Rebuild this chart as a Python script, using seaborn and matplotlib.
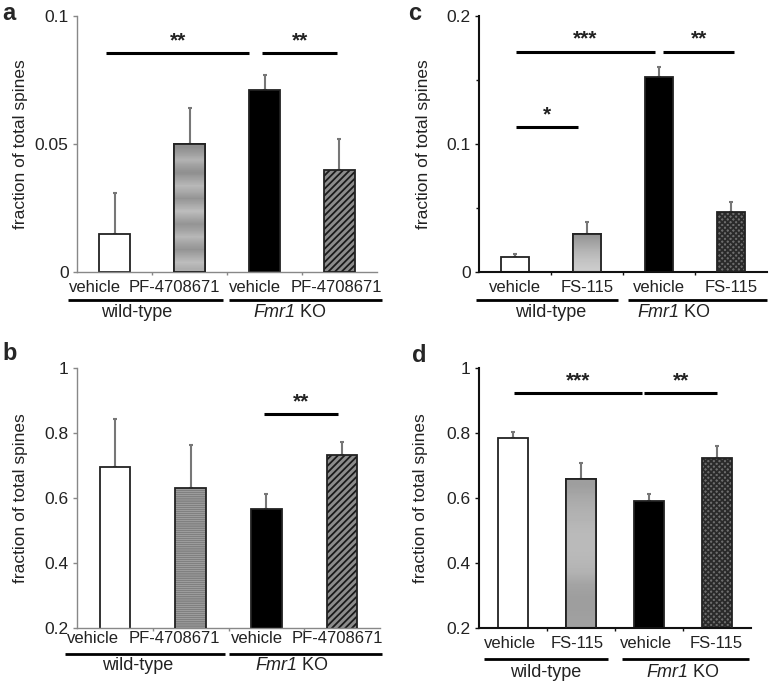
import numpy as np
import pandas as pd
import matplotlib
matplotlib.use("Agg")
import matplotlib.pyplot as plt
import seaborn as sns
from matplotlib.patches import Rectangle
import matplotlib.transforms as mtransforms

# ---------------- data ----------------
conditions = ["WT vehicle", "WT drug", "KO vehicle", "KO drug"]
labels_pf = ["vehicle", "PF-4708671", "vehicle", "PF-4708671"]
labels_fs = ["vehicle", "FS-115", "vehicle", "FS-115"]
group_wt = "wild-type"
group_ko_gene = "Fmr1"
group_ko_suffix = " KO"

a_mean = [0.015, 0.050, 0.071, 0.040]
a_err = [0.016, 0.014, 0.006, 0.012]
b_mean = [0.694, 0.631, 0.567, 0.732]
b_err = [0.149, 0.132, 0.044, 0.041]
c_mean = [0.012, 0.030, 0.152, 0.047]
c_err = [0.002, 0.009, 0.008, 0.008]
d_mean = [0.784, 0.658, 0.590, 0.722]
d_err = [0.020, 0.050, 0.021, 0.038]

a_ticks = [0, 0.05, 0.1]
a_ticklabels = ["0", "0.05", "0.1"]
c_ticks = [0, 0.1, 0.2]
c_ticklabels = ["0", "0.1", "0.2"]
bd_ticks = [0.2, 0.4, 0.6, 0.8, 1.0]
bd_ticklabels = ["0.2", "0.4", "0.6", "0.8", "1"]

# significance annotations: (x_start, x_end, y_line, text)
a_sig = [(-0.11, 1.80, 0.0855, "**"), (1.97, 2.97, 0.0855, "**")]
b_sig = [(1.97, 2.94, 0.858, "**")]
c_sig = [(0.01, 1.94, 0.172, "***"), (2.06, 3.04, 0.172, "**"), (0.01, 0.87, 0.113, "*")]
d_sig = [(0.01, 1.90, 0.923, "***"), (1.93, 3.00, 0.923, "**")]

# ---------------- style ----------------
sns.set_theme(style="white")
plt.rcParams["font.family"] = ["Liberation Sans", "DejaVu Sans"]
plt.rcParams["hatch.linewidth"] = 1.3

fig = plt.figure(figsize=(7.72, 6.82), dpi=100)
W, H = 772.0, 682.0
TXT = "#222222"


def px_axes(left, top, right, bottom):
    return fig.add_axes([left / W, 1 - bottom / H, (right - left) / W, (bottom - top) / H])


def gradient_fill(ax, patch, levels, ybottom):
    x0 = patch.get_x()
    w, h = patch.get_width(), patch.get_height()
    y0 = max(patch.get_y(), ybottom)
    y1 = patch.get_y() + h
    arr = np.array(levels)[:, None]
    im = ax.imshow(arr, cmap="gray", vmin=0, vmax=1, extent=[x0, x0 + w, y0, y1],
                   aspect="auto", interpolation="bilinear", zorder=patch.get_zorder() + 0.1)
    im.set_clip_path(patch)


def panel(ax, means, errs, ticklabels, yticks, yticklabels, ylim, sig, style, spine_color,
          spine_lw, width, xpad, line_off, group_off, group_lines, group_x, label_dx,
          ylab_x, yminor=None):
    df = pd.DataFrame({"cond": conditions, "val": means})
    sns.barplot(data=df, x="cond", y="val", order=conditions, ax=ax, width=width,
                color="white", edgecolor="#222222", linewidth=1.3, errorbar=None, zorder=2)
    pos = np.arange(len(conditions))
    patches = list(ax.patches)
    for p, f in zip(patches, style):
        kind = f[0]
        if kind == "solid":
            p.set_facecolor(f[1])
        elif kind == "hatch":
            p.set_facecolor(f[1])
            p.set_hatch(f[2])
            p.set_edgecolor(f[3])
            p.set_linewidth(0)
            ax.add_patch(Rectangle((p.get_x(), p.get_y()), p.get_width(), p.get_height(),
                                   fill=False, edgecolor="#222222", linewidth=1.3, zorder=4))
        elif kind == "grad":
            p.set_facecolor("#aaaaaa")
            gradient_fill(ax, p, f[1], ylim[0])
            ax.add_patch(Rectangle((p.get_x(), p.get_y()), p.get_width(), p.get_height(),
                                   fill=False, edgecolor="#222222", linewidth=1.3, zorder=4))
    ax.errorbar(pos, means, yerr=[np.zeros(len(errs)), errs], fmt="none", ecolor="#777777",
                elinewidth=1.5, capsize=1.2, capthick=1.5, zorder=1)
    ax.set_xlim(-0.5, 3.5)
    ax.set_ylim(*ylim)
    ax.set_yticks(yticks, yticklabels)
    ax.set_xticks(pos, ticklabels)
    ax.set_xticks([0.5, 1.5, 2.5], minor=True)
    ax.set_xlabel("")
    ax.set_ylabel("fraction of total spines", fontsize=12.5, color=TXT)
    ax.yaxis.set_label_coords(ylab_x, 0.5)
    for s in ["top", "right"]:
        ax.spines[s].set_visible(False)
    for s in ["left", "bottom"]:
        ax.spines[s].set_color(spine_color)
        ax.spines[s].set_linewidth(spine_lw)
    ax.tick_params(axis="y", left=True, length=3, width=1, color=spine_color, labelsize=12.5,
                   pad=3, labelcolor=TXT)
    ax.tick_params(axis="x", which="major", bottom=False, length=0, labelsize=12, pad=xpad,
                   labelcolor=TXT)
    ax.tick_params(axis="x", which="minor", bottom=True, length=2.5, width=1, color=spine_color)
    if yminor is not None:
        ax.set_yticks(yminor, minor=True)
        ax.tick_params(axis="y", which="minor", left=True, length=2.5, width=1, color=spine_color)
    for lbl, dx in zip(ax.get_xticklabels(), label_dx):
        lbl.set_transform(lbl.get_transform()
                          + mtransforms.ScaledTranslation(dx / 100.0, 0, fig.dpi_scale_trans))
    # group lines and labels
    trans = mtransforms.blended_transform_factory(ax.transData, ax.transAxes)
    for (x0, x1) in group_lines:
        ax.plot([x0, x1], [line_off, line_off], transform=trans, color="black", lw=2,
                clip_on=False, solid_capstyle="butt")
    ax.text(group_x[0], group_off, group_wt, transform=trans, ha="center", va="center",
            fontsize=13, color=TXT)
    t1 = ax.text(group_x[1], group_off, group_ko_gene, transform=trans, ha="right",
                 va="center", fontsize=13, color=TXT, style="italic")
    ax.annotate(group_ko_suffix, xy=(1, 0), xycoords=t1, ha="left", va="bottom",
                fontsize=13, color=TXT)
    # significance
    yr = ylim[1] - ylim[0]
    for x0, x1, y, t in sig:
        ax.plot([x0, x1], [y, y], color="black", lw=2.2, solid_capstyle="butt", zorder=5)
        ax.text((x0 + x1) / 2, y + 0.012 * yr, t, ha="center", va="bottom", fontsize=15,
                fontweight="bold", color=TXT)


a_grad = [0.55, 0.62, 0.70, 0.62, 0.56, 0.64, 0.72, 0.66, 0.58, 0.66, 0.74, 0.66, 0.58, 0.64,
          0.72, 0.64, 0.58, 0.66, 0.74, 0.68]
c_grad = [0.58, 0.62, 0.66, 0.70, 0.73, 0.76, 0.78, 0.80]
d_grad = [0.62, 0.66, 0.69, 0.71, 0.73, 0.73, 0.72, 0.70, 0.64, 0.62, 0.62, 0.63]

style_a = [("solid", "white"), ("grad", a_grad), ("solid", "black"),
           ("hatch", "#8c8c8c", "/////", "#1a1a1a")]
style_b = [("solid", "white"), ("hatch", "#e6e6e6", "--------", "#808080"), ("solid", "black"),
           ("hatch", "#8c8c8c", "/////", "#1a1a1a")]
style_c = [("solid", "white"), ("grad", c_grad), ("solid", "black"),
           ("hatch", "#6e6e6e", "xxxxxx", "#2a2a2a")]
style_d = [("solid", "white"), ("grad", d_grad), ("solid", "black"),
           ("hatch", "#6e6e6e", "xxxxxx", "#2a2a2a")]

ax_a = px_axes(77, 16, 377, 272)
panel(ax_a, a_mean, a_err, labels_pf, a_ticks, a_ticklabels, (0, 0.1), a_sig, style_a,
      "#888888", 1.0, 0.41, 6, -0.109, -0.16, [(-0.62, 1.45), (1.53, 3.57)], [0.30, 2.41],
      [-20, -15, -10, -3], -0.165)
ax_b = px_axes(77, 368, 380, 628)
panel(ax_b, b_mean, b_err, labels_pf, bd_ticks, bd_ticklabels, (0.2, 1.0), b_sig, style_b,
      "#888888", 1.0, 0.40, 2, -0.10, -0.146, [(-0.66, 1.45), (1.51, 3.53)], [0.30, 2.41],
      [-22, -16, -9, -5], -0.163)
ax_c = px_axes(479, 16, 767, 272)
panel(ax_c, c_mean, c_err, labels_fs, c_ticks, c_ticklabels, (0, 0.2), c_sig, style_c,
      "#111111", 1.5, 0.40, 6, -0.109, -0.16, [(-0.54, 1.43), (1.57, 3.5)], [0.49, 2.28],
      [0, 0, 0, 0], -0.168, yminor=[0.05, 0.15])
ax_d = px_axes(479, 368, 751, 628)
panel(ax_d, d_mean, d_err, labels_fs, bd_ticks, bd_ticklabels, (0.2, 1.0), d_sig, style_d,
      "#111111", 1.5, 0.43, 6, -0.12, -0.173, [(-0.43, 1.40), (1.61, 3.47)], [0.48, 2.58],
      [-3, -4, -3, -1], -0.186)

for x, y, t in [(2, 2, "a"), (2, 342, "b"), (408, 2, "c"), (412, 344, "d")]:
    fig.text(x / W, 1 - y / H, t, fontsize=17, fontweight="bold", va="top", ha="left")

fig.savefig("out.png", dpi=100)
